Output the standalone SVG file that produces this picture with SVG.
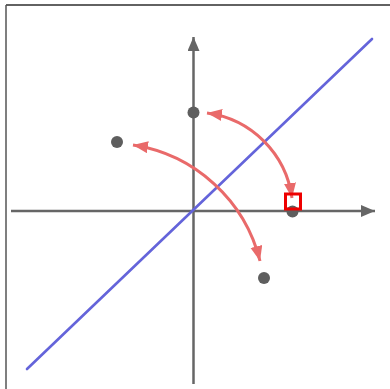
<svg xmlns="http://www.w3.org/2000/svg" width="390" height="389" viewBox="0 0 390 389">
  <style>
    .axis { stroke: #666666; stroke-width: 2.5; fill: none; }
    .dot { fill: #5e5e5e; }
    .arc { stroke: #e96a6a; stroke-width: 3; fill: none; }
    .mirror { stroke: #6464da; stroke-width: 2.6; fill: none; stroke-linecap: round; }
  </style>
  <defs>
    <marker id="axisHead" markerUnits="userSpaceOnUse" markerWidth="16" markerHeight="13" refX="14" refY="6" orient="auto">
      <path d="M0,0 L14,6 L0,12 Z" fill="#666666"/>
    </marker>
    <marker id="redHead" markerUnits="userSpaceOnUse" markerWidth="17" markerHeight="13" refX="15" refY="6" orient="auto-start-reverse">
      <path d="M0,0 L15,6 L0,12 Z" fill="#e96a6a"/>
    </marker>
  </defs>
  <rect width="390" height="389" fill="#ffffff"/>
  <line x1="6" y1="5" x2="390" y2="5" stroke="#2e2e2e" stroke-width="1.5"/>
  <line x1="6" y1="5" x2="6" y2="389" stroke="#555555" stroke-width="1.5"/>

  <g id="axes">
    <line class="axis" x1="11" y1="211" x2="375" y2="211" marker-end="url(#axisHead)"/>
    <line class="axis" x1="193.5" y1="384" x2="193.5" y2="37" marker-end="url(#axisHead)"/>
  </g>

  <g id="mirror-line">
    <line class="mirror" x1="27" y1="369" x2="372" y2="39"/>
  </g>

  <g id="point-a"><circle class="dot" cx="193.5" cy="112.5" r="6"/></g>
  <g id="point-b"><circle class="dot" cx="117" cy="142" r="6"/></g>
  <g id="point-c"><circle class="dot" cx="292.5" cy="211.5" r="6"/></g>
  <g id="point-d"><circle class="dot" cx="264" cy="278" r="6"/></g>

  <g id="connectors">
    <path class="arc" d="M207,113 A99,99 0 0 1 292,198" marker-start="url(#redHead)" marker-end="url(#redHead)"/>
    <path class="arc" d="M133,145 A155,155 0 0 1 260,261" marker-start="url(#redHead)" marker-end="url(#redHead)"/>
  </g>

  <g id="highlight">
    <rect x="285.5" y="194" width="15" height="15" fill="none" stroke="#ee0000" stroke-width="3"/>
  </g>
</svg>
